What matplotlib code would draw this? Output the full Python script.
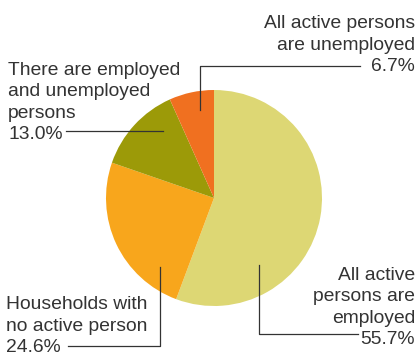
import matplotlib.pyplot as plt

# datos del grafico
etiquetas = ['All active\npersons are\nemployed',
             'Households with\nno active person',
             'There are employed\nand unemployed\npersons',
             'All active persons\nare unemployed']
valores = [55.7, 24.6, 13.0, 6.7]
colores = ['#ddd774', '#f8a61c', '#9c9a08', '#f07020']

W, H = 419, 356
fig = plt.figure(figsize=(W / 100, H / 100), dpi=100)

# pie: centro (214, 198), radio 108 px
cx, cy, r = 214, 198, 108
ax = fig.add_axes([(cx - r) / W, 1 - (cy + r) / H, 2 * r / W, 2 * r / H])
ax.pie(valores, colors=colores, startangle=90, counterclock=False,
       wedgeprops={'linewidth': 0})
ax.set_aspect('equal')
ax.set_xlim(-1, 1)
ax.set_ylim(-1, 1)

# capa para textos y lineas en pixeles
ov = fig.add_axes([0, 0, 1, 1], facecolor='none')
ov.set_xlim(0, W)
ov.set_ylim(H, 0)
ov.axis('off')

txt = '#333333'
fs = 13.9
fam = 'Liberation Sans'

def etiqueta(x, y, texto, valor, ha):
    # y = linea base de la ultima linea (el porcentaje)
    ov.text(x, y, texto + '\n' + f'{valor:.1f}%', ha=ha, va='baseline', fontsize=fs,
            color=txt, family=fam, linespacing=1.33)

etiqueta(415, 71, etiquetas[3], valores[3], 'right')
etiqueta(8, 139, etiquetas[2], valores[2], 'left')
etiqueta(6, 352, etiquetas[1], valores[1], 'left')
etiqueta(415, 344, etiquetas[0], valores[0], 'right')

lc = '#333333'
lw = 0.9
ov.plot([360, 200, 200], [65.5, 65.5, 110], color=lc, lw=lw)
ov.plot([66, 163], [131, 131], color=lc, lw=lw)
ov.plot([68, 160, 160], [345.5, 345.5, 267], color=lc, lw=lw)
ov.plot([358, 259, 259], [334, 334, 265], color=lc, lw=lw)

fig.savefig('out.png', dpi=100)
